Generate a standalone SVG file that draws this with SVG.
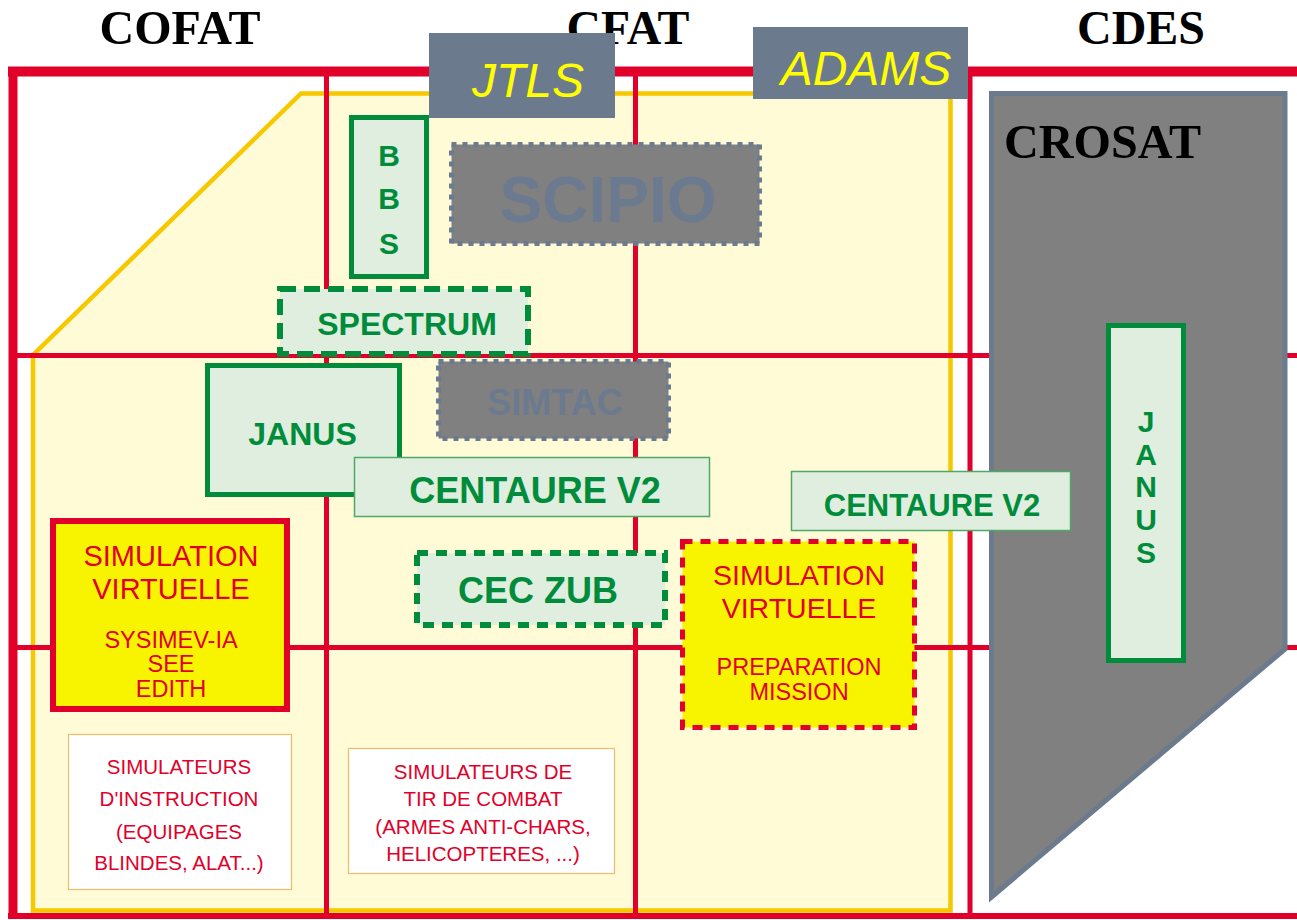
<svg xmlns="http://www.w3.org/2000/svg" width="1297" height="920" viewBox="0 0 1297 920">
<style>
.title{font-family:"Liberation Serif","Times New Roman",serif;font-weight:bold;font-size:48px;fill:#000;text-anchor:middle}
.grid{stroke:#E0002A;fill:none}
.lg{fill:#DFEEDF}
.gs{stroke:#008C3A;stroke-width:5}
.gt{font-family:"Liberation Sans",Arial,sans-serif;font-weight:bold;fill:#008C3A;text-anchor:middle}
.rt{font-family:"Liberation Sans",Arial,sans-serif;fill:#E0002A;text-anchor:middle}
.st{font-family:"Liberation Sans",Arial,sans-serif;font-weight:bold;fill:#6B7A8F;text-anchor:middle}
.gray{fill:#808080;stroke:#6B7A8F;stroke-width:5;stroke-dasharray:5 6}
.sv{fill:#F8F400}
.yt{font-family:"Liberation Sans",Arial,sans-serif;font-style:italic;fill:#FFFF00;font-size:48px;text-anchor:middle}
.wb{fill:#FFFFFF;stroke:#F0BC6A;stroke-width:1.2}
</style>
<rect width="1297" height="920" fill="#FFFFFF"/>
<g id="titles">
<text class="title" x="180" y="44" textLength="161" lengthAdjust="spacingAndGlyphs">COFAT</text>
<text class="title" x="628" y="44" textLength="123" lengthAdjust="spacingAndGlyphs">CFAT</text>
<text class="title" x="1141" y="44" textLength="128" lengthAdjust="spacingAndGlyphs">CDES</text>
</g>
<g id="zone">
<polygon points="301,93.5 950.5,93.5 950.5,910.5 33,910.5 33,355" fill="#FEFBD6" stroke="#F6C800" stroke-width="4.5"/>
</g>
<g id="grid">
<line class="grid" x1="8" y1="71.5" x2="1297" y2="71.5" stroke-width="10"/>
<line class="grid" x1="13" y1="67" x2="13" y2="919" stroke-width="9"/>
<line class="grid" x1="8" y1="916" x2="1297" y2="916" stroke-width="6"/>
<line class="grid" x1="326.5" y1="71" x2="326.5" y2="916" stroke-width="5"/>
<line class="grid" x1="635.5" y1="71" x2="635.5" y2="916" stroke-width="5"/>
<line class="grid" x1="970" y1="71" x2="970" y2="916" stroke-width="5"/>
<line class="grid" x1="13" y1="355.5" x2="1297" y2="355.5" stroke-width="5"/>
<line class="grid" x1="13" y1="647.5" x2="1297" y2="647.5" stroke-width="5"/>
</g>
<g id="jtls">
<rect x="429" y="33" width="186" height="85" fill="#6B7A8C"/>
<text class="yt" x="528" y="97">JTLS</text>
</g>
<g id="adams">
<rect x="753" y="27" width="215" height="72" fill="#6B7A8C"/>
<text class="yt" x="866" y="85">ADAMS</text>
</g>
<g id="crosat">
<polygon points="991.5,93.5 1285,93.5 1285,649 991.5,897" fill="#808080" stroke="#6B7A8C" stroke-width="5"/>
<text x="1004" y="158" font-family="Liberation Serif,'Times New Roman',serif" font-weight="bold" font-size="48" fill="#000" textLength="197" lengthAdjust="spacingAndGlyphs">CROSAT</text>
</g>
<g id="bbs">
<rect class="lg gs" x="351.5" y="117.5" width="75" height="159"/>
<text class="gt" x="389" y="166" font-size="30">B</text>
<text class="gt" x="389" y="209" font-size="30">B</text>
<text class="gt" x="389" y="254" font-size="30">S</text>
</g>
<g id="scipio">
<rect class="gray" x="451.5" y="144.5" width="308" height="99"/>
<text class="st" x="608" y="222" font-size="64">SCIPIO</text>
</g>
<g id="spectrum">
<rect class="lg" x="280" y="289" width="248" height="65" stroke="#008C3A" stroke-width="6" stroke-dasharray="16 8"/>
<text class="gt" x="407" y="335" font-size="32">SPECTRUM</text>
</g>
<g id="simtac">
<rect class="gray" x="438.5" y="361.5" width="230" height="77"/>
<text class="st" x="555" y="415" font-size="36">SIMTAC</text>
</g>
<g id="janus-left">
<rect class="lg gs" x="207.5" y="365.5" width="192" height="129"/>
<text class="gt" x="302.5" y="445" font-size="32">JANUS</text>
</g>
<g id="centaure-1">
<rect class="lg" x="354.5" y="457.5" width="355" height="59" stroke="#4FA865" stroke-width="1.5"/>
<text class="gt" x="535" y="503" font-size="36">CENTAURE V2</text>
</g>
<g id="centaure-2">
<rect class="lg" x="791.5" y="471.5" width="279" height="59" stroke="#4FA865" stroke-width="1.5"/>
<text class="gt" x="932" y="516" font-size="31">CENTAURE V2</text>
</g>
<g id="simvirt-left">
<rect class="sv" x="53" y="521" width="234" height="188" stroke="#E0002A" stroke-width="6"/>
<text class="rt" x="171" y="566" font-size="29">SIMULATION</text>
<text class="rt" x="171" y="599" font-size="29">VIRTUELLE</text>
<text class="rt" x="171" y="648" font-size="23.5">SYSIMEV-IA</text>
<text class="rt" x="171" y="672" font-size="23.5">SEE</text>
<text class="rt" x="171" y="697" font-size="23.5">EDITH</text>
</g>
<g id="cec-zub">
<rect class="lg" x="417" y="553" width="248" height="72" stroke="#008C3A" stroke-width="6" stroke-dasharray="11 8"/>
<text class="gt" x="538" y="603" font-size="36">CEC ZUB</text>
</g>
<g id="simvirt-right">
<rect class="sv" x="682.5" y="541.5" width="232" height="186" stroke="#E0002A" stroke-width="5" stroke-dasharray="10 8"/>
<text class="rt" x="799" y="585" font-size="28.5">SIMULATION</text>
<text class="rt" x="799" y="618" font-size="28.5">VIRTUELLE</text>
<text class="rt" x="799" y="675" font-size="23.5">PREPARATION</text>
<text class="rt" x="799" y="700" font-size="23.5">MISSION</text>
</g>
<g id="sim-instruction">
<rect class="wb" x="68.5" y="734.5" width="223" height="155"/>
<text class="rt" x="179" y="774" font-size="20.5">SIMULATEURS</text>
<text class="rt" x="179" y="806" font-size="20.5">D'INSTRUCTION</text>
<text class="rt" x="179" y="839" font-size="20.5">(EQUIPAGES</text>
<text class="rt" x="179" y="870" font-size="20.5">BLINDES, ALAT...)</text>
</g>
<g id="sim-tir">
<rect class="wb" x="348.5" y="748.5" width="266" height="125"/>
<text class="rt" x="483" y="779" font-size="20.5">SIMULATEURS DE</text>
<text class="rt" x="483" y="806" font-size="20.5">TIR DE COMBAT</text>
<text class="rt" x="483" y="834" font-size="20.5">(ARMES ANTI-CHARS,</text>
<text class="rt" x="483" y="861" font-size="20.5">HELICOPTERES, ...)</text>
</g>
<g id="janus-right">
<rect class="lg gs" x="1108.5" y="325.5" width="75" height="335"/>
<text class="gt" x="1146" y="432" font-size="30">J</text>
<text class="gt" x="1146" y="465" font-size="30">A</text>
<text class="gt" x="1146" y="497" font-size="30">N</text>
<text class="gt" x="1146" y="530" font-size="30">U</text>
<text class="gt" x="1146" y="563" font-size="30">S</text>
</g>
<g id="connectors"></g>
</svg>
